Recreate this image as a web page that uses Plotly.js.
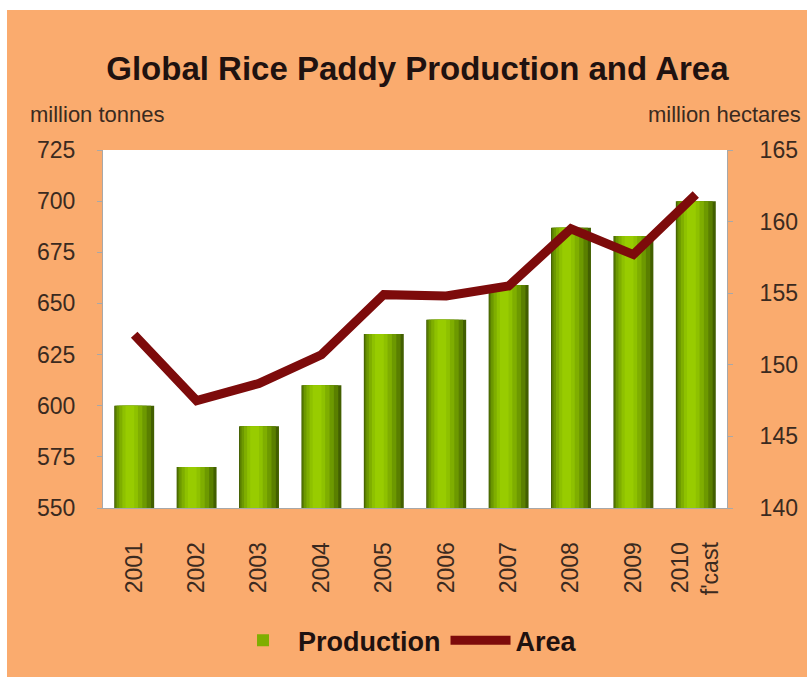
<!DOCTYPE html>
<html><head><meta charset="utf-8">
<script src="https://cdn.plot.ly/plotly-3.0.1.min.js"></script>
<style>
html,body{margin:0;padding:0;background:#fff;}
#chart{position:absolute;left:7px;top:10px;width:800px;height:667px;}
</style></head>
<body><div id="chart"></div>
<script>
const years = ["2001","2002","2003","2004","2005","2006","2007","2008","2009","2010<br>f'cast"];
const production = [600, 570, 590, 610, 635, 642, 659, 687, 683, 700];
const area = [152.1, 147.5, 148.7, 150.7, 154.9, 154.8, 155.5, 159.5, 157.7, 161.9];

const font = "'Liberation Sans', Arial, sans-serif";
const txt = '#3a2a20';

// layered bars to imitate the cylinder gradient (start/end within the category)
const layers = [
  {a:-0.32, b:0.32, c:'#425f00'},
  {a:-0.305, b:0.27, c:'#5a7f00'},
  {a:-0.28, b:0.20, c:'#6d9900'},
  {a:-0.24, b:0.13, c:'#7fae00'},
  {a:-0.19, b:0.06, c:'#8ec100'},
  {a:-0.14, b:0.00, c:'#98cc00'}
];
const traces = layers.map((L,i)=>({
  type:'bar', x:years, y:production, name:'<b>Production</b>',
  width:L.b-L.a, offset:L.a,
  marker:{color:L.c, line:{width:0}},
  showlegend: i===3, hoverinfo:'skip'
}));
traces.push({
  type:'scatter', mode:'lines', x:years, y:area, name:'<b>Area</b>', yaxis:'y2',
  line:{color:'#7d0b0b', width:9}
});

const tickFont = {family:font, size:23, color:txt};
const layout = {
  width:800, height:667,
  paper_bgcolor:'#FAAB6E', plot_bgcolor:'#ffffff',
  margin:{l:96, r:80, t:140, b:166},
  barmode:'overlay',
  title:{text:'<b>Global Rice Paddy Production and Area</b>', font:{family:font, size:33, color:'#1f1210'},
    x:0.513, xanchor:'center', y:0.913, yanchor:'middle'},
  xaxis:{type:'category', tickangle:-90, tickfont:tickFont,
    showline:true, linecolor:'#a8a8a8', ticks:'', ticklabelstandoff:24, showgrid:false},
  yaxis:{range:[550,725], dtick:25, tickfont:tickFont,
    showline:true, linecolor:'#a8a8a8', ticks:'outside', ticklen:5, tickcolor:'#a8a8a8', showgrid:false, zeroline:false,
    ticklabelstandoff:17},
  yaxis2:{range:[140,165], dtick:5, overlaying:'y', side:'right', tickfont:tickFont,
    showline:true, linecolor:'#a8a8a8', ticks:'outside', ticklen:5, tickcolor:'#a8a8a8', showgrid:false, zeroline:false,
    ticklabelstandoff:22},
  legend:{orientation:'h', x:0.484, xanchor:'center', y:-0.371, yanchor:'middle', itemwidth:60,
    font:{family:font, size:27, color:'#1f1210'}, bgcolor:'rgba(0,0,0,0)', traceorder:'normal'},
  showlegend:true,
  annotations:[
    {text:'million tonnes', xref:'paper', yref:'paper', x:-0.12, y:1.0, yshift:36, xanchor:'left', yanchor:'middle', showarrow:false, font:{family:font, size:22, color:txt}},
    {text:'million hectares', xref:'paper', yref:'paper', x:1.122, y:1.0, yshift:36, xanchor:'right', yanchor:'middle', showarrow:false, font:{family:font, size:22, color:txt}}
  ]
};
Plotly.newPlot('chart', traces, layout, {displayModeBar:false, staticPlot:true});
</script></body></html>
